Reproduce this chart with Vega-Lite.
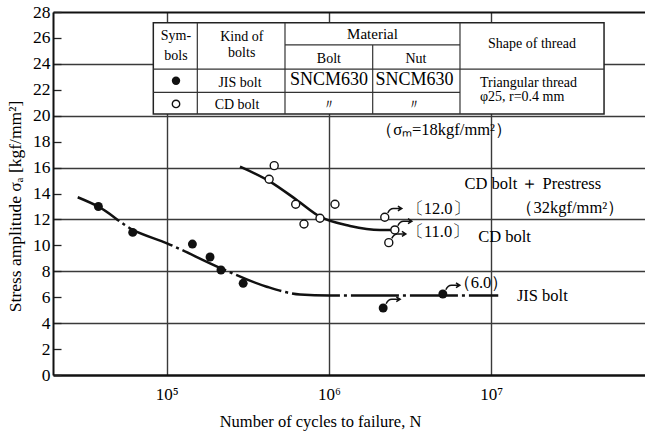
{
  "$schema": "https://vega.github.io/schema/vega-lite/v6.json",
  "width": 592,
  "height": 363,
  "autosize": {"type": "none"},
  "padding": {"left": 53, "top": 12, "right": 0, "bottom": 60},
  "background": "white",
  "config": {
    "view": {"stroke": null},
    "axis": {"labelFont": "Liberation Serif", "titleFont": "Liberation Serif", "labelColor": "#000", "titleColor": "#000", "titleFontWeight": "normal", "labelOverlap": false},
    "text": {"font": "Liberation Serif", "color": "#000"}
  },
  "encoding": {
    "x": {
      "field": "cycles", "type": "quantitative",
      "scale": {"type": "log", "domain": [19900, 88900000], "nice": false},
      "axis": {
        "title": "Number of cycles to failure, N",
        "values": [100000, 1000000, 10000000],
        "labelOverlap": false,
        "ticks": false,
        "grid": true, "gridColor": "#3a3a3a", "gridWidth": 1.4, "gridOpacity": 1,
        "labelExpr": "datum.value < 500000 ? '10⁵' : datum.value < 5000000 ? '10⁶' : '10⁷'",
        "labelFontSize": 17, "labelPadding": 11,
        "domainColor": "#111", "domainWidth": 2.5,
        "titleFontSize": 16.5, "titleX": 267, "titleY": 51, "titleBaseline": "alphabetic"
      }
    },
    "y": {
      "field": "stress", "type": "quantitative",
      "scale": {"domain": [0, 28], "nice": false, "zero": false},
      "axis": {
        "title": "Stress amplitude  σₐ  [kgf/mm²]",
        "values": [0, 2, 4, 6, 8, 10, 12, 14, 16, 18, 20, 22, 24, 26, 28],
        "labelOverlap": false,
        "labelBound": false,
        "grid": true,
        "gridColor": {"condition": {"test": "datum.value >= 28", "value": "#111"}, "value": "#3a3a3a"},
        "gridWidth": {"condition": {"test": "datum.value >= 28", "value": 2.2}, "value": 1.4},
        "gridOpacity": {"condition": {"test": "datum.value % 4 === 0 && datum.value > 0", "value": 1}, "value": 0},
        "tickSize": -8, "tickWidth": 1.3, "tickColor": "#222",
        "labelPadding": 11, "labelFontSize": 17.5,
        "domainColor": "#111", "domainWidth": 2,
        "titleFontSize": 17.5, "titleX": -38, "titleY": 194, "titleAngle": -90, "titleBaseline": "middle"
      }
    }
  },
  "datasets": {
    "table_box": [{"cycles": 82670, "cycles2": 49700000, "stress": 20.14, "stress2": 27.18}],
    "table_lines": [
      {"cycles": 154400, "cycles2": 154400, "stress": 20.14, "stress2": 27.18},
      {"cycles": 536100, "cycles2": 536100, "stress": 20.14, "stress2": 27.18},
      {"cycles": 1862000, "cycles2": 1862000, "stress": 20.14, "stress2": 25.46},
      {"cycles": 6430000, "cycles2": 6430000, "stress": 20.14, "stress2": 27.18},
      {"cycles": 536100, "cycles2": 6430000, "stress": 25.46, "stress2": 25.46},
      {"cycles": 82670, "cycles2": 49700000, "stress": 23.59, "stress2": 23.59},
      {"cycles": 82670, "cycles2": 6430000, "stress": 21.8, "stress2": 21.8}
    ],
    "table_text": [
      {"cycles": 114100, "stress": 26.16, "label": "Sym-"},
      {"cycles": 114100, "stress": 24.64, "label": "bols"},
      {"cycles": 290000, "stress": 26.1, "label": "Kind of"},
      {"cycles": 290000, "stress": 24.87, "label": "bolts"},
      {"cycles": 1000000, "stress": 24.36, "label": "Bolt"},
      {"cycles": 3440000, "stress": 24.36, "label": "Nut"},
      {"cycles": 17870000, "stress": 25.52, "label": "Shape of thread"},
      {"cycles": 283000, "stress": 22.55, "label": "JIS bolt"},
      {"cycles": 271300, "stress": 20.83, "label": "CD bolt"},
      {"cycles": 1000000, "stress": 20.83, "label": "〃"},
      {"cycles": 3370000, "stress": 20.83, "label": "〃"}
    ],
    "table_head": [
      {"cycles": 1857000, "stress": 26.31, "label": "Material"}
    ],
    "table_big": [
      {"cycles": 1000000, "stress": 22.72, "label": "SNCM630"},
      {"cycles": 3370000, "stress": 22.72, "label": "SNCM630"}
    ],
    "table_left": [
      {"cycles": 8540000, "stress": 22.51, "label": "Triangular thread"},
      {"cycles": 8540000, "stress": 21.43, "label": "φ25,  r=0.4 mm"}
    ],
    "table_syms": [
      {"cycles": 114100, "stress": 22.7, "series": "JIS"},
      {"cycles": 114100, "stress": 20.91, "series": "CD"}
    ],
    "curves": [
      {"series": "JIS", "cycles": 28270, "stress": 13.71},
      {"series": "JIS", "cycles": 37700, "stress": 13.0},
      {"series": "JIS", "cycles": 61980, "stress": 11.19},
      {"series": "JIS", "cycles": 100400, "stress": 10.16},
      {"series": "JIS", "cycles": 216200, "stress": 8.23},
      {"series": "JIS", "cycles": 413500, "stress": 6.81},
      {"series": "JIS", "cycles": 663500, "stress": 6.21},
      {"series": "JIS", "cycles": 1000000, "stress": 6.13},
      {"series": "JIS", "cycles": 11070000, "stress": 6.13},
      {"series": "CD", "cycles": 283100, "stress": 16.07},
      {"series": "CD", "cycles": 433500, "stress": 14.92},
      {"series": "CD", "cycles": 633200, "stress": 13.5},
      {"series": "CD", "cycles": 881200, "stress": 12.21},
      {"series": "CD", "cycles": 1349000, "stress": 11.5},
      {"series": "CD", "cycles": 2065000, "stress": 11.19},
      {"series": "CD", "cycles": 2667000, "stress": 11.19}
    ],
    "points": [
      {"series": "JIS", "cycles": 37900, "stress": 13.0, "runout": false},
      {"series": "JIS", "cycles": 61700, "stress": 11.0, "runout": false},
      {"series": "JIS", "cycles": 144000, "stress": 10.1, "runout": false},
      {"series": "JIS", "cycles": 185000, "stress": 9.1, "runout": false},
      {"series": "JIS", "cycles": 216000, "stress": 8.1, "runout": false},
      {"series": "JIS", "cycles": 296000, "stress": 7.07, "runout": false},
      {"series": "JIS", "cycles": 2160000, "stress": 5.17, "runout": true},
      {"series": "JIS", "cycles": 5040000, "stress": 6.25, "runout": true},
      {"series": "CD", "cycles": 460000, "stress": 16.15, "runout": false},
      {"series": "CD", "cycles": 428000, "stress": 15.1, "runout": false},
      {"series": "CD", "cycles": 624000, "stress": 13.17, "runout": false},
      {"series": "CD", "cycles": 702000, "stress": 11.65, "runout": false},
      {"series": "CD", "cycles": 881000, "stress": 12.09, "runout": false},
      {"series": "CD", "cycles": 1090000, "stress": 13.17, "runout": false},
      {"series": "CD", "cycles": 2210000, "stress": 12.17, "runout": true},
      {"series": "CD", "cycles": 2550000, "stress": 11.19, "runout": true},
      {"series": "CD", "cycles": 2340000, "stress": 10.21, "runout": true}
    ],
    "notes": [
      {"cycles": 5130000, "stress": 18.9, "label": "（σₘ=18kgf/mm²）"},
      {"cycles": 18100000, "stress": 14.71, "label": "CD bolt ＋ Prestress"},
      {"cycles": 30800000, "stress": 12.86, "label": "（32kgf/mm²）"},
      {"cycles": 4710000, "stress": 12.78, "label": "〔12.0〕"},
      {"cycles": 4710000, "stress": 11.06, "label": "〔11.0〕"},
      {"cycles": 12100000, "stress": 10.62, "label": "CD bolt"},
      {"cycles": 8670000, "stress": 7.07, "label": "（6.0）"},
      {"cycles": 20700000, "stress": 6.1, "label": "JIS bolt"}
    ]
  },
  "layer": [
    {
      "data": {"name": "table_box"},
      "mark": {"type": "rect", "fill": "white", "stroke": "#222", "strokeWidth": 1.5},
      "encoding": {"x2": {"field": "cycles2"}, "y2": {"field": "stress2"}}
    },
    {
      "data": {"name": "table_lines"},
      "mark": {"type": "rule", "stroke": "#333", "strokeWidth": 1.2},
      "encoding": {"x2": {"field": "cycles2"}, "y2": {"field": "stress2"}}
    },
    {
      "data": {"name": "table_text"},
      "mark": {"type": "text", "font": "Liberation Serif", "fontSize": 14, "align": "center", "baseline": "middle"},
      "encoding": {"text": {"field": "label"}}
    },
    {
      "data": {"name": "table_head"},
      "mark": {"type": "text", "font": "Liberation Serif", "fontSize": 15, "align": "center", "baseline": "middle"},
      "encoding": {"text": {"field": "label"}}
    },
    {
      "data": {"name": "table_big"},
      "mark": {"type": "text", "font": "Liberation Serif", "fontSize": 18, "align": "center", "baseline": "middle"},
      "encoding": {"text": {"field": "label"}}
    },
    {
      "data": {"name": "table_left"},
      "mark": {"type": "text", "font": "Liberation Serif", "fontSize": 14, "align": "left", "baseline": "middle"},
      "encoding": {"text": {"field": "label"}}
    },
    {
      "data": {"name": "table_syms"},
      "transform": [{"filter": "datum.series === 'JIS'"}],
      "mark": {"type": "point", "shape": "circle", "filled": true, "fill": "#111", "size": 70, "opacity": 1}
    },
    {
      "data": {"name": "table_syms"},
      "transform": [{"filter": "datum.series === 'CD'"}],
      "mark": {"type": "point", "shape": "circle", "filled": false, "stroke": "#111", "strokeWidth": 1.4, "size": 55, "opacity": 1}
    },
    {
      "data": {"name": "curves"},
      "transform": [{"filter": "datum.series === 'JIS'"}],
      "mark": {"type": "line", "stroke": "#111", "strokeWidth": 2.5, "interpolate": "monotone", "strokeDash": [48, 4, 3, 4]}
    },
    {
      "data": {"name": "curves"},
      "transform": [{"filter": "datum.series === 'CD'"}],
      "mark": {"type": "line", "stroke": "#111", "strokeWidth": 2.6, "interpolate": "monotone"}
    },
    {
      "data": {"name": "points"},
      "transform": [{"filter": "datum.runout"}],
      "mark": {"type": "point", "shape": "M-1,0.4 Q-0.7,-0.25 -0.2,-0.25 L1,-0.25 M0.45,-0.6 L1,-0.25 L0.45,0.1", "filled": false, "stroke": "#111", "strokeWidth": 1.5, "size": 196, "xOffset": 10, "yOffset": -7, "opacity": 1}
    },
    {
      "data": {"name": "points"},
      "transform": [{"filter": "datum.series === 'JIS'"}],
      "mark": {"type": "point", "shape": "circle", "filled": true, "fill": "#111", "size": 80, "opacity": 1}
    },
    {
      "data": {"name": "points"},
      "transform": [{"filter": "datum.series === 'CD'"}],
      "mark": {"type": "point", "shape": "circle", "filled": true, "fill": "white", "stroke": "#111", "strokeWidth": 1.4, "size": 64, "opacity": 1}
    },
    {
      "data": {"name": "notes"},
      "mark": {"type": "text", "font": "Liberation Serif", "fontSize": 16.5, "align": "center", "baseline": "middle"},
      "encoding": {"text": {"field": "label"}}
    }
  ]
}
